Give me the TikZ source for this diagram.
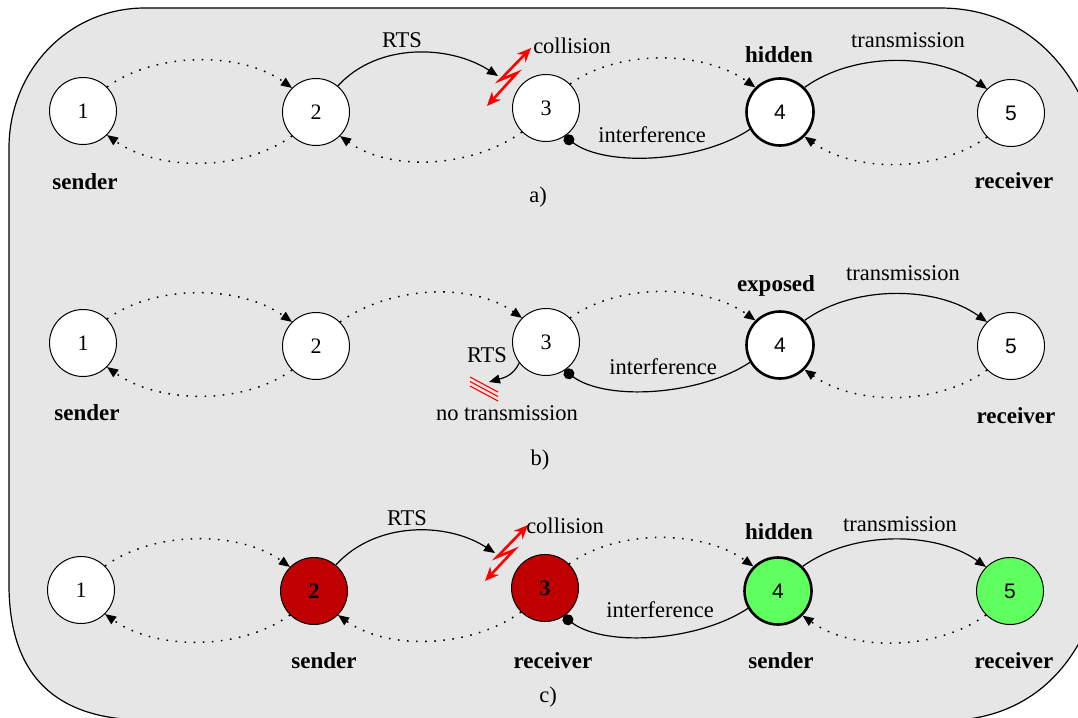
\documentclass[tikz,border=0pt]{standalone}
\usepackage{fontspec}
\setmainfont{Liberation Serif}
\newfontfamily\sansf{Liberation Sans}
\usetikzlibrary{arrows.meta}
\definecolor{bg}{RGB}{230,230,230}
\definecolor{dred}{RGB}{192,0,0}
\definecolor{lgreen}{RGB}{96,255,96}
\begin{document}
\begin{tikzpicture}[x=1pt,y=-1pt,
  nd/.style={circle,draw,fill=white,minimum size=67pt,inner sep=0pt,line width=1pt,font=\fontsize{22}{24}\selectfont},
  sf/.style={font=\sansf\fontsize{21}{24}\selectfont},
  hv/.style={line width=2.6pt},
  redn/.style={fill=dred,font=\fontsize{22}{24}\selectfont\bfseries},
  grn/.style={fill=lgreen},
  dotc/.style={line width=1.5pt,dash pattern=on 1.6pt off 7.5pt,-{Triangle[length=11pt,width=9pt]}},
  solc/.style={line width=1.2pt,-{Triangle[length=11pt,width=9pt]}},
  intc/.style={line width=1.2pt,-{Circle[length=11pt]}},
  lbl/.style={font=\fontsize{22.5}{26}\selectfont,inner sep=0pt},
  blbl/.style={font=\fontsize{23}{26}\selectfont\bfseries,inner sep=0pt},
  coll/.style={red,line width=2.6pt,line join=miter,{Stealth[length=14pt,width=12pt]}-{Stealth[length=14pt,width=12pt]}},
  nomark/.style={red,line width=1.1pt}
]
\useasboundingbox (0,0) rectangle (1078,717);
% background
\path[fill=bg,draw=black,line width=1.2pt] (145,8) -- (940,8)
  .. controls (1040,8) and (1100,90) .. (1108,200) -- (1108,540)
  .. controls (1100,640) and (1050,712) .. (960,720) -- (140,720)
  .. controls (60,718) and (10,680) .. (9,587) -- (9,148)
  .. controls (9,71) and (68,8) .. (145,8) -- cycle;

% ---------------- row a ----------------
\node[nd] (a1) at (83,111) {1};
\node[nd] (a2) at (316,112) {2};
\node[nd] (a3) at (546,108) {3};
\node[nd,hv,sf] (a4) at (780,112) {4};
\node[nd,sf] (a5) at (1011,113) {5};
\coordinate (aR) at (498,76);
\draw[dotc] (a1.45) .. controls +(50,-36) and +(-50,-36) .. (a2.135);
\draw[dotc] (a2.225) .. controls +(-50,36) and +(50,36) .. (a1.-45);
\draw[solc] (a2.50) .. controls +(40,-44) and +(-48,-31) .. (aR);
\draw[dotc] (a3.225) .. controls +(-50,36) and +(50,36) .. (a2.-45);
\draw[dotc] (a3.45) .. controls +(50,-36) and +(-50,-36) .. (a4.135);
\draw[intc] (a4.210) .. controls +(-50,33) and +(42,31) .. (a3.-57);
\draw[solc] (a4.45) .. controls +(50,-36) and +(-50,-36) .. (a5.135);
\draw[dotc] (a5.225) .. controls +(-50,36) and +(50,36) .. (a4.-45);
\draw[coll] (531,48) -- (500,80) -- (517,73) -- (487,106);
\node[lbl] (aRTS) at (402,40) {RTS};
\node[lbl] (acol) at (572,46) {collision};
\node[blbl] (ahid) at (779,55) {hidden};
\node[lbl] (atr) at (908,40) {transmission};
\node[lbl] (aint) at (652,135) {interference};
\node[blbl] (asen) at (85,182) {sender};
\node[blbl] (arec) at (1014,181) {receiver};
\node[lbl] (acap) at (538,197) {a)};

% ---------------- row b ----------------
\node[nd] (b1) at (83,343) {1};
\node[nd] (b2) at (316,346) {2};
\node[nd] (b3) at (546,342) {3};
\node[nd,hv,sf] (b4) at (780,345) {4};
\node[nd,sf] (b5) at (1011,346) {5};
\coordinate (bR) at (489,382);
\draw[dotc] (b1.45) .. controls +(50,-36) and +(-50,-36) .. (b2.135);
\draw[dotc] (b2.225) .. controls +(-50,36) and +(50,36) .. (b1.-45);
\draw[dotc] (b2.45) .. controls +(50,-36) and +(-50,-36) .. (b3.135);
\draw[dotc] (b3.45) .. controls +(50,-36) and +(-50,-36) .. (b4.135);
\draw[intc] (b4.210) .. controls +(-50,33) and +(42,31) .. (b3.-57);
\draw[solc] (b4.45) .. controls +(50,-36) and +(-50,-36) .. (b5.135);
\draw[dotc] (b5.225) .. controls +(-50,36) and +(50,36) .. (b4.-45);
\draw[solc] (b3.218) .. controls +(-6,13) and +(14,-4) .. (bR);
\draw[nomark] (470,377) -- (498,392);
\draw[nomark] (470,381.5) -- (498,396.5);
\draw[nomark] (470,386) -- (498,401);
\node[lbl] (bRTS) at (487,355) {RTS};
\node[lbl] (bno) at (507,413) {no transmission};
\node[blbl] (bexp) at (776,286) {exposed};
\node[lbl] (btr) at (903,273) {transmission};
\node[lbl] (bint) at (663,367) {interference};
\node[blbl] (bsen) at (87,413) {sender};
\node[blbl] (brec) at (1016,416) {receiver};
\node[lbl] (bcap) at (540,460) {b)};

% ---------------- row c ----------------
\node[nd] (c1) at (81,590) {1};
\node[nd,redn] (c2) at (314,591) {2};
\node[nd,redn] (c3) at (545,588) {3};
\node[nd,hv,sf,grn] (c4) at (778,591) {4};
\node[nd,sf,grn] (c5) at (1010,591) {5};
\coordinate (cR) at (495,553);
\draw[dotc] (c1.45) .. controls +(50,-36) and +(-50,-36) .. (c2.135);
\draw[dotc] (c2.225) .. controls +(-50,36) and +(50,36) .. (c1.-45);
\draw[solc] (c2.50) .. controls +(40,-44) and +(-48,-31) .. (cR);
\draw[dotc] (c3.225) .. controls +(-50,36) and +(50,36) .. (c2.-45);
\draw[dotc] (c3.45) .. controls +(50,-36) and +(-50,-36) .. (c4.135);
\draw[intc] (c4.210) .. controls +(-50,33) and +(42,31) .. (c3.-57);
\draw[solc] (c4.45) .. controls +(50,-36) and +(-50,-36) .. (c5.135);
\draw[dotc] (c5.225) .. controls +(-50,36) and +(50,36) .. (c4.-45);
\draw[coll] (528,525) -- (497,557) -- (514,550) -- (485,581);
\node[lbl] (cRTS) at (407,518) {RTS};
\node[lbl] (ccol) at (565,526) {collision};
\node[blbl] (chid) at (779,532) {hidden};
\node[lbl] (ctr) at (900,524) {transmission};
\node[lbl] (cint) at (660,610) {interference};
\node[blbl] (csen2) at (324,661) {sender};
\node[blbl] (crec3) at (553,661) {receiver};
\node[blbl] (csen4) at (781,661) {sender};
\node[blbl] (crec5) at (1014,661) {receiver};
\node[lbl] (ccap) at (548,697) {c)};
\end{tikzpicture}
\end{document}
